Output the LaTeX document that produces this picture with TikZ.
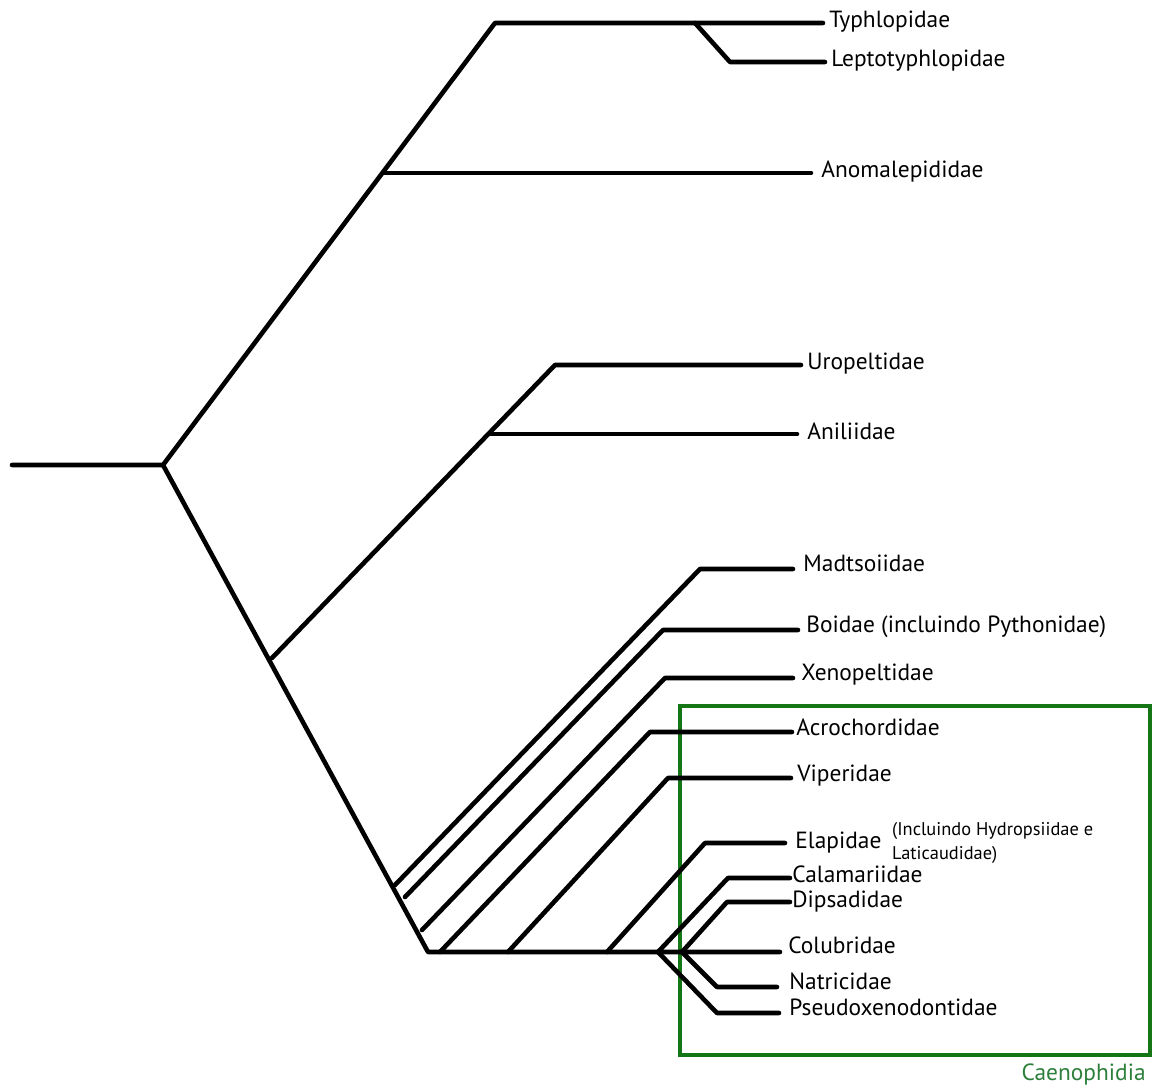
\documentclass[tikz,border=0pt]{standalone}
\usepackage{fontspec}
\setmainfont{PT Sans}
\usepackage{xcolor}
\usepackage{tikz}
\usetikzlibrary{positioning,calc}
\definecolor{cladegreen}{RGB}{20,118,20}
\definecolor{cladetext}{RGB}{45,128,60}

\begin{document}
\begin{tikzpicture}[x=0.5pt,y=-0.5pt,font=\fontsize{11.7}{13}\selectfont,
    branch/.style={line width=2.3pt,line cap=round,line join=round},
    taxon/.style={anchor=west,inner sep=0pt,text height=1.4ex,text depth=0.4ex},
    note/.style={anchor=west,inner sep=0pt,align=left,font=\fontsize{9.2}{12.4}\selectfont}]
                \useasboundingbox (0,0) rectangle (1153,1086);
                \coordinate (r0) at (12,465);
                \coordinate (root) at (163,465);
                \coordinate (scol) at (383,173);
                \coordinate (typc) at (495,23);
                \coordinate (typf) at (695,23);
                \coordinate (lepc) at (730,62);
                \coordinate (alet) at (272,658);
                \coordinate (uroc) at (555,365);
                \coordinate (anif) at (491,434);
                \coordinate (base) at (428,952);
                \coordinate (madf) at (395,885);   \coordinate (madc) at (700,569);
                \coordinate (boif) at (405,897);   \coordinate (boic) at (663,630);
                \coordinate (xenf) at (422,930);   \coordinate (xenc) at (665,678);
                \coordinate (acrf) at (440,952);   \coordinate (acrc) at (650,732);
                \coordinate (vipf) at (508,952);   \coordinate (vipc) at (668,778);
                \coordinate (elaf) at (607,952);   \coordinate (elac) at (705,843);
                \coordinate (caef) at (658,952);   \coordinate (colf) at (682,952);
                \coordinate (calc) at (728,878);   \coordinate (dipc) at (727,902);
                \coordinate (natc) at (717,987);   \coordinate (psec) at (717,1013);
                % Caenophidia box
                \draw[cladegreen,line width=2.2pt] (680,706) rectangle (1150,1055);
                \node[cladetext,anchor=east,inner sep=0pt] (caeno) at (1146,1075) {Caenophidia};
                % taxa
                \node[taxon] (typh) at (829,23) {Typhlopidae};
                \node[taxon] (lept) at (831,62) {Leptotyphlopidae};
                \node[taxon] (anom) at (821,173) {Anomalepididae};
                \node[taxon] (urop) at (807,365) {Uropeltidae};
                \node[taxon] (anil) at (807,434) {Aniliidae};
                \node[taxon] (madt) at (803,566) {Madtsoiidae};
                \node[taxon] (boid) at (806,627) {Boidae (incluindo Pythonidae)};
                \node[taxon] (xeno) at (801,675) {Xenopeltidae};
                \node[taxon] (acro) at (796,730) {Acrochordidae};
                \node[taxon] (vipe) at (797,776) {Viperidae};
                \node[taxon] (elap) at (795,843) {Elapidae};
                \node[note,right=5pt of elap] (elapn) {(Incluindo Hydropsiidae e\\Laticaudidae)};
                \node[taxon] (cala) at (792,877) {Calamariidae};
                \node[taxon] (dips) at (792,902) {Dipsadidae};
                \node[taxon] (colu) at (788,948) {Colubridae};
                \node[taxon] (natr) at (789,984) {Natricidae};
                \node[taxon] (pseu) at (789,1010) {Pseudoxenodontidae};
                % tree
                \draw[branch] (r0) -- (root) -- (typc) -- ([xshift=-3pt]typh.west);
                \draw[branch] (typf) -- (lepc) -- ([xshift=-3pt]lept.west);
                \draw[branch] (scol) -- ([xshift=-5pt]anom.west);
                \draw[branch] (root) -- (base) -- (colf) -- ([xshift=-4pt]colu.west |- colf);
                \draw[branch] (alet) -- (uroc) -- ([xshift=-3pt]urop.west);
                \draw[branch] (anif) -- ([xshift=-5pt]anil.west);
                \draw[branch] (madf) -- (madc) -- ([xshift=-5pt]madt.west |- madc);
                \draw[branch] (boif) -- (boic) -- ([xshift=-4pt]boid.west |- boic);
                \draw[branch] (xenf) -- (xenc) -- ([xshift=-4pt]xeno.west |- xenc);
                \draw[branch] (acrf) -- (acrc) -- ([xshift=-2pt]acro.west |- acrc);
                \draw[branch] (vipf) -- (vipc) -- ([xshift=-3pt]vipe.west |- vipc);
                \draw[branch] (elaf) -- (elac) -- ([xshift=-5pt]elap.west);
                \draw[branch] (caef) -- (calc) -- ([xshift=-1pt]cala.west |- calc);
                \draw[branch] (colf) -- (dipc) -- ([xshift=-1pt]dips.west);
                \draw[branch] (colf) -- (natc) -- ([xshift=-6pt]natr.west |- natc);
                \draw[branch] (caef) -- (psec) -- ([xshift=-5pt]pseu.west |- psec);
            \end{tikzpicture}
\end{document}
